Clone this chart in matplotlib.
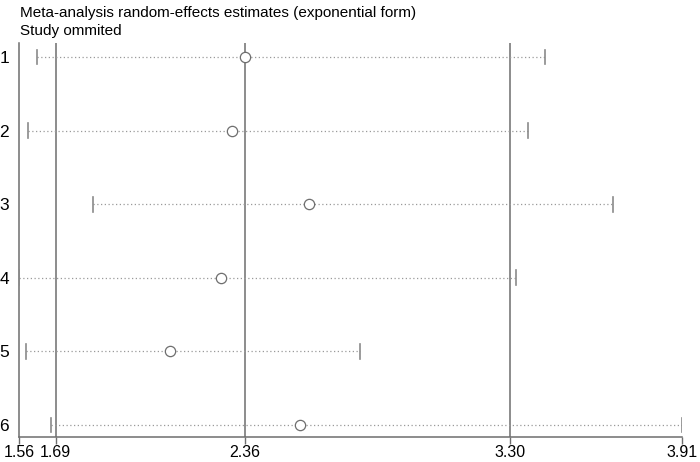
import matplotlib
matplotlib.use("Agg")
import matplotlib.pyplot as plt

# study omitted (row labels) and estimates
studies = ["1", "2", "3", "4", "5", "6"]
estimate = [2.361, 2.315, 2.588, 2.276, 2.095, 2.556]
lower = [1.624, 1.592, 1.822, 1.560, 1.585, 1.673]
upper = [3.424, 3.364, 3.665, 3.321, 2.768, 3.910]

# combined estimate and its CI (reference lines), axis range
combined = [1.69, 2.36, 3.30]
xticks = [1.56, 1.69, 2.36, 3.30, 3.91]

plt.rcParams["font.family"] = "Liberation Sans"

grey = "#6e6e6e"
fig = plt.figure(figsize=(7, 4.62), dpi=100)
ax = fig.add_axes([0.027, 0.054, 0.947, 0.853])

ypos = list(range(1, len(studies) + 1))

for y, lo, hi in zip(ypos, lower, upper):
    ax.plot([lo, hi], [y, y], color="#9a9a9a", lw=0.9, ls=(0, (1, 2)), zorder=2)
    ax.plot([lo, lo], [y - 0.1, y + 0.1], color="#8a8a8a", lw=1.2, zorder=3)
    ax.plot([hi, hi], [y - 0.1, y + 0.1], color="#8a8a8a", lw=1.2, zorder=3)
ax.scatter(estimate, ypos, s=55, facecolors="white", edgecolors=grey, linewidths=0.9, zorder=4)

for v in combined:
    ax.axvline(v, color=grey, lw=1.1, zorder=1)

ax.set_xlim(xticks[0], xticks[-1])
ax.set_ylim(6.163, 0.81)
ax.set_xticks(xticks)
ax.set_xticklabels([f"{t:.2f}" for t in xticks], fontsize=11.5)
ax.set_yticks(ypos)
ax.set_yticklabels(studies, fontsize=12.5)
ax.tick_params(axis="x", length=5, color=grey, width=1.0, pad=1)
ax.tick_params(axis="y", length=0, pad=7)

for s in ["top", "right"]:
    ax.spines[s].set_visible(False)
for s in ["left", "bottom"]:
    ax.spines[s].set_color(grey)
    ax.spines[s].set_linewidth(1.1)

fig.text(0.029, 0.963, "Meta-analysis random-effects estimates (exponential form)",
         fontsize=11, va="baseline", ha="left")
fig.text(0.029, 0.924, "Study ommited", fontsize=11, va="baseline", ha="left")

fig.savefig("out.png", dpi=100)
